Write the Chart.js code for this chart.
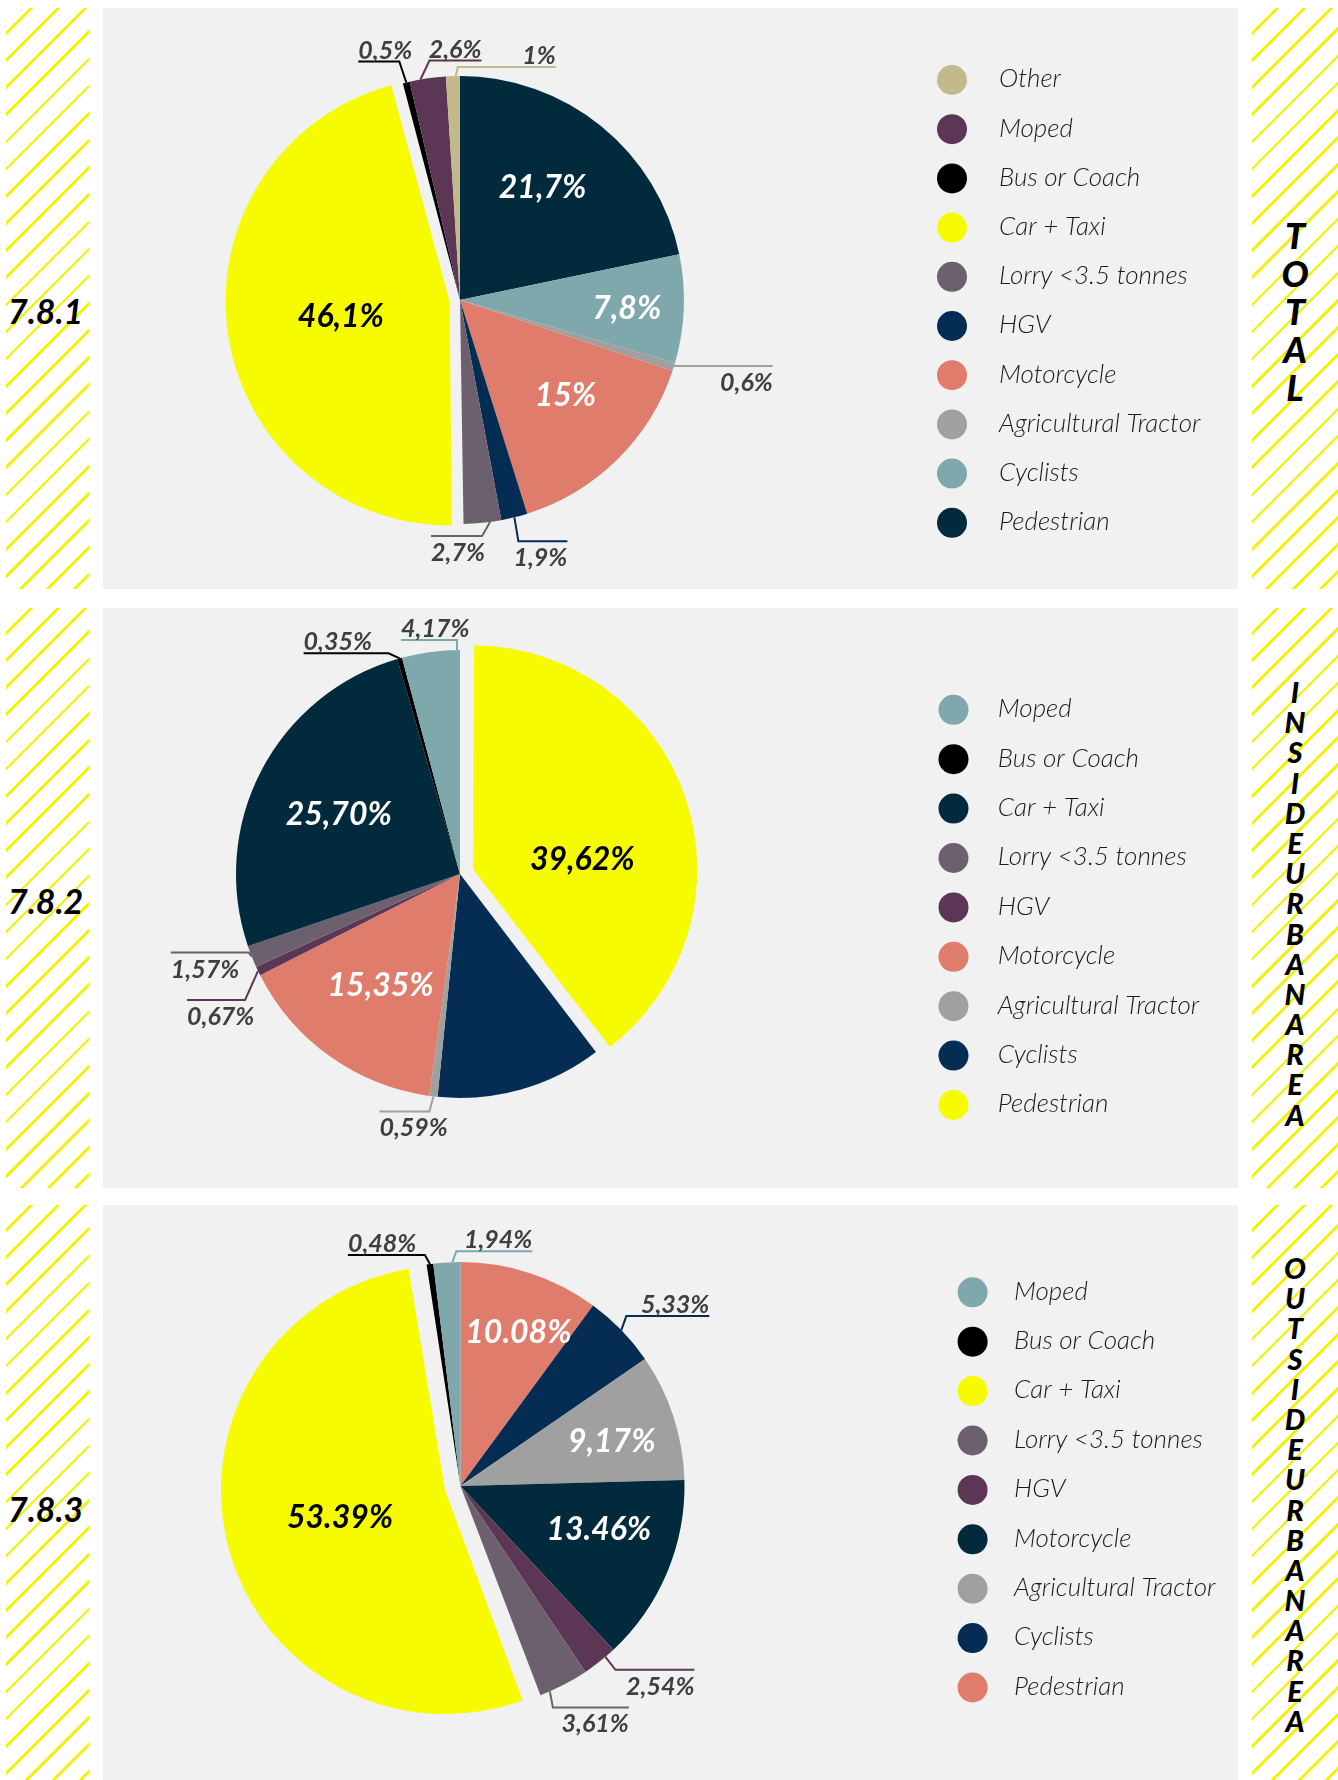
<!DOCTYPE html>
<html>
<head>
<meta charset="utf-8">
<title>7.8 Casualties by type of vehicle</title>
<script src="https://cdn.jsdelivr.net/npm/chart.js@4.4.1/dist/chart.umd.min.js"></script>
<style>
  body { margin: 0; background: #fff; font-family: Lato, sans-serif; }
  #page { position: relative; width: 1338px; height: 1780px; overflow: hidden; }
  .hatch {
    position: absolute;
    background: repeating-linear-gradient(135deg, rgba(255,255,255,0) 0 16.6px, #f4f400 16.6px 19.2px);
  }
  .panel { position: absolute; left: 103px; width: 1135px; background: #f0f1f0; }
  .panel canvas { display: block; }
  .code {
    position: absolute; left: 8px; transform: translateY(-50%);
    font: italic 700 34px Lato, sans-serif; line-height: 1; color: #000;
  }
  .side {
    position: absolute; left: 1252px; width: 86px; transform: translateY(-50%);
    text-align: center; font-style: italic; font-weight: 900; color: #000;
  }
  .side span { display: block; }
</style>
</head>
<body>
<div id="page"></div>
<script>
// ---- data (slices run clockwise from 12 o'clock) ----

// 7.8.1 total
const cats1 = ['Pedestrian', 'Cyclists', 'Agricultural Tractor', 'Motorcycle', 'HGV', 'Lorry <3.5 tonnes', 'Car + Taxi', 'Bus or Coach', 'Moped', 'Other'];
const vals1 = [21.7, 7.8, 0.6, 15, 1.9, 2.7, 46.1, 0.5, 2.6, 1];
const text1 = ['21,7%', '7,8%', '0,6%', '15%', '1,9%', '2,7%', '46,1%', '0,5%', '2,6%', '1%'];

// 7.8.2 inside urban area
const cats2 = ['Pedestrian', 'Cyclists', 'Agricultural Tractor', 'Motorcycle', 'HGV', 'Lorry <3.5 tonnes', 'Car + Taxi', 'Bus or Coach', 'Moped'];
const vals2 = [39.62, 11.98, 0.59, 15.35, 0.67, 1.57, 25.70, 0.35, 4.17];
const text2 = ['39,62%', null, '0,59%', '15,35%', '0,67%', '1,57%', '25,70%', '0,35%', '4,17%'];

// 7.8.3 outside urban area
const cats3 = ['Pedestrian', 'Cyclists', 'Agricultural Tractor', 'Motorcycle', 'HGV', 'Lorry <3.5 tonnes', 'Car + Taxi', 'Bus or Coach', 'Moped'];
const vals3 = [10.08, 5.33, 9.17, 13.46, 2.54, 3.61, 53.39, 0.48, 1.94];
const text3 = ['10.08%', '5,33%', '9,17%', '13.46%', '2,54%', '3,61%', '53.39%', '0,48%', '1,94%'];

// ---- colours ----
const C = {
  teal: '#012b3d', sky: '#7fa8ad', grey: '#a0a0a0', salmon: '#df7c6c', navy: '#052c53',
  lorry: '#6c606f', yellow: '#f6fb00', black: '#000000', plum: '#5b3755', sand: '#c2b98d'
};
const colors1 = [C.teal, C.sky, C.grey, C.salmon, C.navy, C.lorry, C.yellow, C.black, C.plum, C.sand];
const colors2 = [C.yellow, C.navy, C.grey, C.salmon, C.plum, C.lorry, C.teal, C.black, C.sky];
const colors3 = [C.salmon, C.navy, C.grey, C.teal, C.plum, C.lorry, C.yellow, C.black, C.sky];

// ---- value tags: r = inside label (fraction of radius), t = callout anchor along the arc ----
const tags1 = [
  { r: 0.62, dx: -5, dy: -5, fill: '#fff' },
  { r: 0.745, dy: 2, fill: '#fff' },
  { t: 0.5, ex: 0, ey: -1, len: 99, below: true },
  { r: 0.64, dx: 5, dy: -7, fill: '#fff' },
  { t: 0.5, ex: 4, ey: 24, len: 49, below: true },
  { t: 0.3, ex: -8, ey: 14, len: -51, below: true },
  { r: 0.49, fill: '#000' },
  { t: 0.5, ex: -7, ey: -21, len: -41 },
  { t: 0.3, ex: 9, ey: -19, len: 52 },
  { t: 0.7, ex: 2, ey: -9, len: 98 }
];
const tags2 = [
  { r: 0.49, dx: 5, dy: 25, fill: '#000' },
  null,
  { t: 0.5, ex: -4, ey: 15, len: -50, below: true },
  { r: 0.61, fill: '#fff' },
  { t: 0.5, ex: -13, ey: 29, len: -58, below: true },
  { t: 0.5, ex: -3, ey: -4, len: -78, below: true },
  { r: 0.6, dx: -2, dy: 3, fill: '#fff' },
  { t: 0.5, ex: -11, ey: -5, len: -85 },
  { t: 0.95, ex: 0, ey: -10, len: -56 }
];
const tags3 = [
  { r: 0.73, dx: 7, dy: 2, fill: '#fff' },
  { t: 0.5, ex: 5, ey: -14, len: 83 },
  { r: 0.71, dy: 5, fill: '#fff' },
  { r: 0.65, dx: 4, dy: -13, fill: '#fff' },
  { t: 0.3, ex: 10, ey: 13, len: 79, below: true },
  { t: 0.8, ex: 3, ey: 16, len: 76, below: true },
  { r: 0.485, fill: '#000' },
  { t: 0.5, ex: -5, ey: -9, len: -77 },
  { t: 0.7, ex: 4, ey: -11, len: 76 }
];

// ---- page blocks ----
const sections = [
  { code: '7.8.1', side: 'TOTAL', sideSize: 36, sidePitch: 38, sideMid: 311, codeMid: 311,
    top: 8, height: 581, cx: 357, cy: 292, explode: 6, pull: 42,
    legend: { dotX: 849, y: 72, textX: 896, gap: 49.2 },
    cats: cats1, vals: vals1, text: text1, colors: colors1, tags: tags1 },
  { code: '7.8.2', side: 'INSIDEURBANAREA', sideSize: 29, sidePitch: 30.2, sideMid: 903, codeMid: 901,
    top: 608, height: 580, cx: 357, cy: 266, explode: 0, pull: 56,
    legend: { dotX: 850.5, y: 101.8, textX: 894.8, gap: 49.4 },
    cats: cats2, vals: vals2, text: text2, colors: colors2, tags: tags2 },
  { code: '7.8.3', side: 'OUTSIDEURBANAREA', sideSize: 29, sidePitch: 30.2, sideMid: 1494, codeMid: 1509,
    top: 1205, height: 575, cx: 357.5, cy: 281, explode: 6, pull: 64,
    legend: { dotX: 869.6, y: 87.3, textX: 911, gap: 49.4 },
    cats: cats3, vals: vals3, text: text3, colors: colors3, tags: tags3 }
];

// pulled-out slice: how far the arc is moved, and how much its radius grows
function pullOf(arc) {
  const off = (arc.options.offset || 0) / 4;
  const fix = 1 - Math.sin(Math.min(Math.PI, arc.circumference));
  return { shift: off, grow: off * fix };
}

// percentage tags inside slices and on leader lines
const sliceTags = {
  id: 'sliceTags',
  beforeDatasetsDraw(chart) {
    // keep the pulled slice at the same radius as the rest
    chart.getDatasetMeta(0).data.forEach(arc => {
      const { grow } = pullOf(arc);
      arc.fullRadius = arc.outerRadius;
      arc.outerRadius -= grow;
    });
  },
  afterDatasetsDraw(chart, args, opts) {
    const ctx = chart.ctx;
    chart.getDatasetMeta(0).data.forEach((arc, i) => {
      arc.outerRadius = arc.fullRadius;
      const tag = opts.tags[i];
      const txt = opts.text[i];
      if (!tag || !txt) return;
      const p = arc.getProps(['x', 'y', 'startAngle', 'endAngle', 'outerRadius'], true);
      const mid = (p.startAngle + p.endAngle) / 2;
      const { shift } = pullOf(arc);
      const ox = p.x + Math.cos(mid) * shift;
      const oy = p.y + Math.sin(mid) * shift;
      ctx.save();
      if (tag.r !== undefined) {
        const lx = ox + Math.cos(mid) * p.outerRadius * tag.r + (tag.dx || 0);
        const ly = oy + Math.sin(mid) * p.outerRadius * tag.r + (tag.dy || 0);
        ctx.font = 'italic 700 32px Lato';
        ctx.fillStyle = tag.fill;
        ctx.textAlign = 'center';
        ctx.textBaseline = 'middle';
        ctx.fillText(txt, lx, ly);
      } else {
        const a = p.startAngle + (p.endAngle - p.startAngle) * tag.t;
        const px = ox + Math.cos(a) * p.outerRadius;
        const py = oy + Math.sin(a) * p.outerRadius;
        const ex = px + tag.ex, ey = py + tag.ey, hx = ex + tag.len;
        ctx.strokeStyle = arc.options.backgroundColor;
        ctx.lineWidth = 2;
        ctx.beginPath();
        ctx.moveTo(px, py);
        ctx.lineTo(ex, ey);
        ctx.lineTo(hx, ey);
        ctx.stroke();
        ctx.font = 'italic 700 25px Lato';
        ctx.fillStyle = '#3f3f3f';
        ctx.textAlign = tag.len > 0 ? 'right' : 'left';
        ctx.textBaseline = 'alphabetic';
        ctx.fillText(txt, hx, tag.below ? ey + 25 : ey - 3);
      }
      ctx.restore();
    });
  }
};

// legend column to the right, listed in reverse slice order
const sideLegend = {
  id: 'sideLegend',
  afterDraw(chart, args, opts) {
    const ctx = chart.ctx;
    const labels = chart.data.labels;
    const colors = chart.data.datasets[0].backgroundColor;
    ctx.save();
    ctx.font = 'italic 300 26px Lato';
    ctx.textBaseline = 'middle';
    ctx.textAlign = 'left';
    for (let k = 0; k < labels.length; k++) {
      const i = labels.length - 1 - k;
      const y = opts.y + k * opts.gap;
      ctx.fillStyle = colors[i];
      ctx.beginPath();
      ctx.arc(opts.dotX, y, 15, 0, Math.PI * 2);
      ctx.fill();
      ctx.fillStyle = '#1c1c1c';
      ctx.fillText(labels[i], opts.textX, y - 1);
    }
    ctx.restore();
  }
};

const page = document.getElementById('page');

function addBlock(s) {
  [6, 1252].forEach(left => {
    const h = document.createElement('div');
    h.className = 'hatch';
    h.style.left = left + 'px';
    h.style.top = s.top + 'px';
    h.style.width = (left === 6 ? 83 : 86) + 'px';
    h.style.height = s.height + 'px';
    page.appendChild(h);
  });

  const code = document.createElement('div');
  code.className = 'code';
  code.style.top = s.codeMid + 'px';
  code.textContent = s.code;
  page.appendChild(code);

  const side = document.createElement('div');
  side.className = 'side';
  side.style.top = s.sideMid + 'px';
  side.style.fontSize = s.sideSize + 'px';
  s.side.split('').forEach(ch => {
    const sp = document.createElement('span');
    sp.style.height = s.sidePitch + 'px';
    sp.style.lineHeight = s.sidePitch + 'px';
    sp.textContent = ch;
    side.appendChild(sp);
  });
  page.appendChild(side);

  const panel = document.createElement('div');
  panel.className = 'panel';
  panel.style.top = s.top + 'px';
  panel.style.height = s.height + 'px';
  const canvas = document.createElement('canvas');
  canvas.width = 1135;
  canvas.height = s.height;
  panel.appendChild(canvas);
  page.appendChild(panel);

  const offsets = s.vals.map((v, i) => (i === s.explode ? s.pull : 0));

  new Chart(canvas, {
    type: 'pie',
    data: {
      labels: s.cats,
      datasets: [{
        data: s.vals,
        backgroundColor: s.colors,
        borderWidth: 0,
        offset: offsets,
        hoverOffset: 0
      }]
    },
    options: {
      responsive: false,
      animation: false,
      events: [],
      devicePixelRatio: 1,
      radius: 224,
      layout: {
        padding: {
          left: 0,
          right: 1135 - 2 * s.cx,
          top: Math.max(0, 2 * s.cy - s.height),
          bottom: Math.max(0, s.height - 2 * s.cy)
        }
      },
      plugins: {
        legend: { display: false },
        tooltip: { enabled: false },
        sliceTags: { tags: s.tags, text: s.text },
        sideLegend: s.legend
      }
    },
    plugins: [sliceTags, sideLegend]
  });
}

sections.forEach(addBlock);
</script>
</body>
</html>
